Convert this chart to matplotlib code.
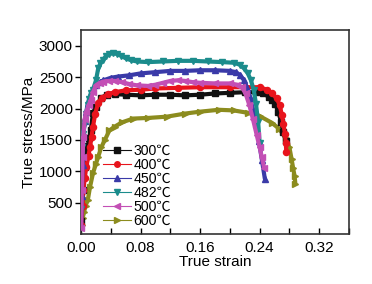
import numpy as np
import matplotlib
matplotlib.use("Agg")
import matplotlib.pyplot as plt

plt.rcParams['font.family'] = ['Liberation Sans', 'Noto Sans CJK SC', 'DejaVu Sans']

# true strain / true stress (MPa)
strain_300 = [0.000, 0.003, 0.005, 0.007, 0.009, 0.011, 0.013, 0.016, 0.020, 0.027, 0.035, 0.045,
              0.060, 0.080, 0.100, 0.120, 0.140, 0.160, 0.180, 0.200, 0.220, 0.235, 0.245, 0.252,
              0.257, 0.261, 0.265, 0.269, 0.272, 0.275]
stress_300 = [200, 700, 1070, 1250, 1400, 1530, 1660, 1930, 2030, 2170, 2220, 2230,
              2220, 2210, 2220, 2220, 2210, 2220, 2240, 2250, 2260, 2260, 2240, 2190,
              2140, 2070, 1950, 1780, 1620, 1480]

strain_400 = [0.000, 0.002, 0.003, 0.005, 0.007, 0.010, 0.012, 0.014, 0.016, 0.019, 0.023, 0.028,
              0.036, 0.045, 0.060, 0.080, 0.100, 0.130, 0.160, 0.200, 0.220, 0.240, 0.250, 0.257,
              0.263, 0.267, 0.270, 0.272, 0.274, 0.275, 0.276]
stress_400 = [150, 450, 700, 900, 1070, 1250, 1390, 1550, 1710, 1920, 2090, 2170,
              2230, 2260, 2290, 2300, 2320, 2330, 2340, 2340, 2340, 2340, 2300, 2240,
              2160, 2050, 1890, 1750, 1600, 1450, 1300]

strain_450 = [0.000, 0.001, 0.002, 0.003, 0.005, 0.007, 0.009, 0.012, 0.016, 0.020, 0.025, 0.030,
              0.040, 0.050, 0.065, 0.080, 0.100, 0.120, 0.140, 0.160, 0.180, 0.200, 0.208, 0.214,
              0.219, 0.223, 0.227, 0.231, 0.235, 0.239, 0.243, 0.247]
stress_450 = [150, 600, 1100, 1610, 1800, 1950, 2080, 2200, 2300, 2380, 2420, 2450,
              2490, 2510, 2530, 2560, 2580, 2600, 2600, 2610, 2610, 2600, 2580, 2530,
              2450, 2330, 2180, 1980, 1750, 1480, 1180, 880]

strain_482 = [0.000, 0.001, 0.003, 0.005, 0.007, 0.009, 0.011, 0.013, 0.016, 0.020, 0.023, 0.026,
              0.029, 0.033, 0.038, 0.043, 0.048, 0.054, 0.060, 0.067, 0.075, 0.090, 0.110, 0.130,
              0.150, 0.170, 0.190, 0.205, 0.213, 0.219, 0.224, 0.228, 0.232, 0.235, 0.238, 0.240]
stress_482 = [400, 1390, 1600, 1770, 1920, 2050, 2150, 2240, 2300, 2450, 2640, 2720,
              2770, 2830, 2870, 2880, 2870, 2840, 2800, 2770, 2750, 2740, 2750, 2760,
              2760, 2750, 2740, 2730, 2700, 2640, 2560, 2460, 2300, 2080, 1780, 1450]

strain_500 = [0.000, 0.001, 0.002, 0.003, 0.005, 0.007, 0.010, 0.013, 0.016, 0.020, 0.025, 0.030,
              0.038, 0.045, 0.055, 0.065, 0.075, 0.090, 0.100, 0.110, 0.120, 0.130, 0.140, 0.150,
              0.160, 0.180, 0.200, 0.210, 0.216, 0.221, 0.226, 0.231, 0.236, 0.240, 0.243, 0.246]
stress_500 = [100, 700, 1230, 1550, 1840, 1950, 2050, 2130, 2260, 2370, 2410, 2430,
              2440, 2440, 2420, 2390, 2370, 2360, 2380, 2410, 2440, 2450, 2440, 2420,
              2410, 2400, 2400, 2380, 2340, 2240, 2060, 1830, 1580, 1380, 1220, 1060]

strain_600 = [0.001, 0.002, 0.004, 0.006, 0.009, 0.012, 0.016, 0.020, 0.023, 0.027, 0.032, 0.038,
              0.045, 0.055, 0.070, 0.090, 0.115, 0.140, 0.160, 0.185, 0.205, 0.225, 0.240, 0.256,
              0.266, 0.275, 0.280, 0.283, 0.285, 0.287, 0.288]
stress_600 = [150, 250, 350, 450, 540, 750, 970, 1120, 1230, 1380, 1500, 1650,
              1710, 1780, 1840, 1850, 1870, 1920, 1950, 1980, 1970, 1930, 1880, 1775,
              1680, 1530, 1380, 1190, 1050, 920, 800]

labels = ['300℃', '400℃', '450℃', '482℃', '500℃', '600℃']
series = [(strain_300, stress_300), (strain_400, stress_400), (strain_450, stress_450),
          (strain_482, stress_482), (strain_500, stress_500), (strain_600, stress_600)]
colors = ['#111111', '#e8141c', '#3a3aa8', '#1b8c8c', '#c34fb5', '#8c8c1e']
markers = ['s', 'o', '^', 'v', '<', '>']
zorders = [3, 4, 5, 6, 7, 2]

fig = plt.figure(figsize=(3.72, 2.84), dpi=100)
ax = fig.add_axes([0.218, 0.176, 0.720, 0.718])

handles = []
for (x, y), lab, c, m, z in zip(series, labels, colors, markers, zorders):
    ax.plot(x, y, color=c, lw=3.0, zorder=z, solid_capstyle='round')
    ax.plot(x, y, ls='none', marker=m, ms=4.4, color=c, zorder=z)
    h, = ax.plot([], [], color=c, lw=0.8, marker=m, ms=4, label=lab)
    handles.append(h)

ax.set_xlim(0, 0.36)
ax.set_ylim(0, 3250)
ax.set_xticks(np.arange(0, 0.361, 0.04))
ax.set_xticklabels(['0.00', '', '0.08', '', '0.16', '', '0.24', '', '0.32', ''])
ax.set_yticks([500, 1000, 1500, 2000, 2500, 3000])
ax.tick_params(axis='x', direction='in', length=4, width=1, labelsize=11, pad=5)
ax.tick_params(axis='y', direction='out', length=4, width=1, labelsize=11, pad=2)
for s in ax.spines.values():
    s.set_linewidth(1.2)
    s.set_color('#333333')

ax.set_xlabel('True strain', fontsize=11, labelpad=0)
ax.set_ylabel('True stress/MPa', fontsize=11, labelpad=2)

ax.legend(handles=handles, loc='lower left', bbox_to_anchor=(0.08, 0.028), frameon=False,
          fontsize=10.2, handlelength=2.0, handletextpad=0.2, labelspacing=0.0,
          borderpad=0.0, borderaxespad=0.0)

fig.savefig('out.png', dpi=100)
